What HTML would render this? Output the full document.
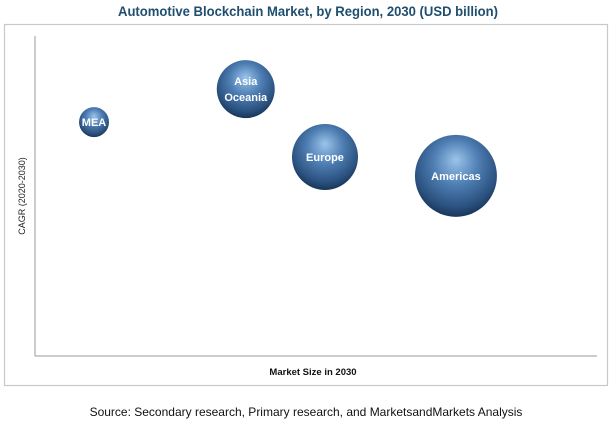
<!DOCTYPE html>
<html><head><meta charset="utf-8"><style>
body{margin:0;background:#fff;width:612px;height:431px;overflow:hidden;font-family:"Liberation Sans",sans-serif}
svg{display:block}
</style></head><body>
<svg width="612" height="431">
<defs>
<radialGradient id="bg" cx="0.5" cy="0.38" r="0.6" fx="0.5" fy="0.3">
<stop offset="0" stop-color="#9cc4ea"/>
<stop offset="0.45" stop-color="#4f7fb4"/>
<stop offset="0.85" stop-color="#2b5280"/>
<stop offset="1" stop-color="#1c3a5f"/>
</radialGradient>
</defs>
<text x="308" y="16" text-anchor="middle" font-size="14" font-weight="bold" fill="#1f4e6e" textLength="380" lengthAdjust="spacingAndGlyphs">Automotive Blockchain Market, by Region, 2030 (USD billion)</text>
<rect x="4.5" y="24.5" width="603" height="361" fill="none" stroke="#c8c8c8" stroke-width="1.2"/>
<line x1="35" y1="36" x2="35" y2="356" stroke="#999"/>
<line x1="35" y1="356" x2="597" y2="356" stroke="#999"/>
<text transform="translate(25,196) rotate(-90)" text-anchor="middle" font-size="9" fill="#222">CAGR (2020-2030)</text>
<text x="313" y="375" text-anchor="middle" font-size="9.5" font-weight="bold" fill="#111">Market Size in 2030</text>
<text x="306" y="416" text-anchor="middle" font-size="12" fill="#111">Source: Secondary research, Primary research, and MarketsandMarkets Analysis</text>
<g id="bubbles"></g>
</svg>
<script>
const regions=["MEA","Asia|Oceania","Europe","Americas"];
const marketSize=[10.5,37.5,51.6,74.9];
const cagr=[73.1,83.4,62.2,56.3];
const bubbleSize=[2.25,8.4,10.9,16.8];
const xS=v=>35+v/100*562, yS=v=>356-v/100*320, rS=v=>Math.sqrt(v)*10;
const g=document.getElementById('bubbles'),NS="http://www.w3.org/2000/svg";
regions.forEach((name,i)=>{
 const cx=xS(marketSize[i]),cy=yS(cagr[i]),r=rS(bubbleSize[i]);
 const c=document.createElementNS(NS,'circle');
 c.setAttribute('cx',cx);c.setAttribute('cy',cy);c.setAttribute('r',r);c.setAttribute('fill','url(#bg)');
 
 
 g.appendChild(c);
 const lines=name.split('|');
 lines.forEach((l,j)=>{
  const t=document.createElementNS(NS,'text');
  t.setAttribute('x',cx);t.setAttribute('y',cy+4+(j-(lines.length-1)/2)*16);
  t.setAttribute('text-anchor','middle');t.setAttribute('font-size','11');t.setAttribute('font-weight','bold');t.setAttribute('fill','#fff');
  t.textContent=l;
  
  
  g.appendChild(t);
 });
});
</script>
</body></html>
